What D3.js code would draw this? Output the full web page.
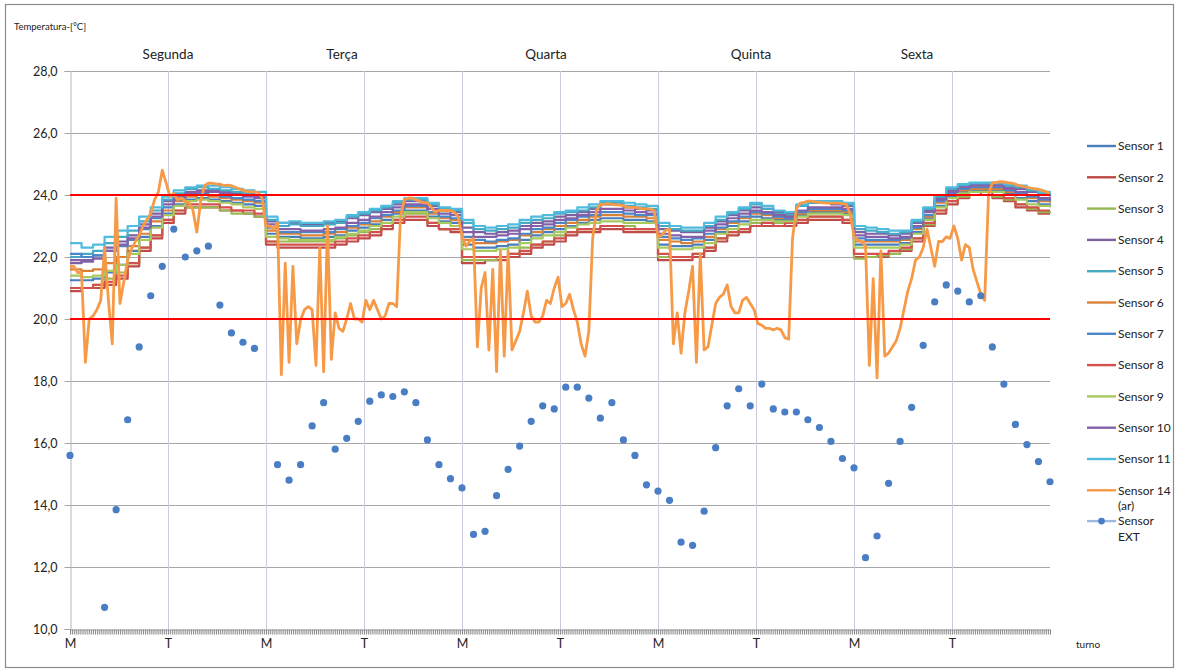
<!DOCTYPE html>
<html><head><meta charset="utf-8">
<script src="https://cdn.jsdelivr.net/npm/d3@7"></script>
<style>
body{margin:0;background:#fff}
svg{display:block}
text{font-family:Lato,"Open Sans","Liberation Sans",sans-serif;fill:#222}
</style>
</head><body>
<svg id="chart" width="1179" height="671"></svg>
<script>
// ---------------- DATA ----------------
const days = ["Segunda","Terça","Quarta","Quinta","Sexta"];
const shiftLabels = ["M","T"];
const slotsPerDay = 102;          // categories (10-min slots) per day
const sensorStep = 6;             // sensors 1-11 and EXT: one value every 6 categories (hourly)
const airStep = 2;                // sensor 14 (ar): one value every 2 categories
const yTicks = [10,12,14,16,18,20,22,24,26,28];
const limits = [20,24];
const seriesNames = ["Sensor 1","Sensor 2","Sensor 3","Sensor 4","Sensor 5","Sensor 6","Sensor 7","Sensor 8","Sensor 9","Sensor 10","Sensor 11","Sensor 14 (ar)","Sensor EXT"];

const sensor1 = [21.25,21.25,21.3,21.5,21.75,22.2,22.65,23.0,23.4,23.7,23.85,23.9,23.85,23.8,23.75,23.7,23.65,
22.75,22.65,22.65,22.6,22.6,22.65,22.7,22.85,22.95,23.05,23.2,23.4,23.5,23.5,23.3,23.15,23.1,
22.4,22.3,22.3,22.35,22.4,22.55,22.7,22.8,22.9,23.0,23.1,23.2,23.25,23.25,23.2,23.2,23.15,
22.4,22.35,22.35,22.4,22.55,22.8,23.0,23.15,23.3,23.25,23.2,23.2,23.35,23.45,23.45,23.45,23.4,
22.4,22.4,22.4,22.4,22.45,22.8,23.25,23.65,23.95,24.1,24.15,24.15,24.15,24.05,23.9,23.8,23.7,23.65];
const sensor2 = [20.9,21.0,21.0,21.1,21.3,21.7,22.2,22.6,23.1,23.4,23.6,23.6,23.6,23.5,23.5,23.4,23.3,
22.4,22.3,22.3,22.3,22.3,22.3,22.4,22.5,22.6,22.7,22.9,23.1,23.2,23.2,23.0,22.9,22.8,
21.8,21.8,21.9,21.9,22.0,22.1,22.3,22.4,22.5,22.7,22.8,22.8,22.9,22.9,22.8,22.8,22.8,
21.9,21.9,21.9,22.0,22.2,22.5,22.7,22.8,23.0,23.0,23.0,23.0,23.1,23.2,23.2,23.2,23.1,
22.0,22.0,22.0,22.1,22.2,22.5,23.0,23.4,23.7,23.9,24.0,24.0,23.9,23.8,23.6,23.5,23.4,23.4];
const sensor3 = [21.0,21.0,21.1,21.3,21.5,21.8,22.3,22.7,23.2,23.5,23.6,23.6,23.6,23.5,23.4,23.4,23.3,
22.5,22.5,22.5,22.5,22.5,22.5,22.6,22.7,22.8,22.9,23.0,23.2,23.4,23.4,23.1,22.9,22.9,
21.9,21.9,21.9,22.0,22.1,22.3,22.4,22.5,22.7,22.8,22.9,22.9,23.0,23.0,23.0,22.9,22.9,
22.0,22.0,22.0,22.1,22.3,22.6,22.8,22.9,23.1,23.1,23.1,23.1,23.2,23.3,23.3,23.3,23.2,
21.95,22.0,22.05,22.1,22.25,22.6,23.05,23.5,23.8,23.95,24.0,24.0,23.95,23.85,23.7,23.55,23.45,23.4];
const sensor4 = [21.8,21.9,22.05,22.3,22.5,22.7,23.05,23.4,23.8,24.0,24.1,24.15,24.15,24.1,24.05,24.0,23.95,
23.15,23.1,23.1,23.05,23.05,23.1,23.15,23.25,23.35,23.45,23.55,23.7,23.8,23.8,23.65,23.5,23.45,
22.95,22.8,22.75,22.8,22.85,23.0,23.1,23.15,23.3,23.35,23.45,23.55,23.7,23.7,23.6,23.55,23.5,
22.9,22.85,22.8,22.8,22.95,23.15,23.35,23.5,23.6,23.55,23.45,23.4,23.65,23.75,23.75,23.7,23.65,
22.8,22.75,22.75,22.7,22.75,23.1,23.5,23.9,24.15,24.3,24.35,24.35,24.35,24.25,24.2,24.1,24.0,23.95];
const sensor5 = [22.0,22.1,22.2,22.45,22.65,22.85,23.15,23.5,23.85,24.05,24.2,24.25,24.2,24.15,24.1,24.05,24.0,
23.2,23.0,23.05,23.0,23.0,23.05,23.1,23.3,23.4,23.5,23.6,23.75,23.85,23.85,23.7,23.55,23.5,
23.1,22.9,22.85,22.9,22.95,23.1,23.2,23.25,23.4,23.45,23.5,23.6,23.75,23.75,23.65,23.6,23.55,
23.0,22.9,22.85,22.85,23.0,23.2,23.4,23.55,23.7,23.55,23.4,23.35,23.65,23.75,23.75,23.75,23.7,
22.9,22.85,22.8,22.75,22.8,23.15,23.55,23.95,24.2,24.3,24.35,24.35,24.35,24.3,24.25,24.15,24.05,24.0];
const sensor6 = [21.6,21.55,21.6,21.8,22.0,22.35,22.75,23.15,23.5,23.8,23.95,24.0,23.95,23.9,23.85,23.8,23.75,
22.85,22.75,22.75,22.7,22.7,22.75,22.8,22.95,23.05,23.15,23.3,23.45,23.6,23.6,23.4,23.25,23.2,
22.55,22.45,22.45,22.5,22.55,22.7,22.8,22.9,23.0,23.1,23.2,23.3,23.35,23.35,23.3,23.3,23.25,
22.55,22.5,22.45,22.5,22.65,22.9,23.1,23.25,23.4,23.35,23.25,23.25,23.4,23.5,23.5,23.5,23.45,
22.5,22.5,22.5,22.5,22.55,22.9,23.3,23.75,24.0,24.15,24.2,24.2,24.2,24.1,24.0,23.9,23.8,23.75];
const sensor7 = [22.1,22.0,22.05,22.2,22.35,22.55,22.9,23.25,23.6,23.85,24.0,24.05,24.0,23.95,23.9,23.85,23.8,
22.95,22.8,22.8,22.8,22.8,22.8,22.9,23.0,23.1,23.25,23.35,23.5,23.65,23.65,23.45,23.3,23.25,
22.65,22.55,22.5,22.55,22.6,22.75,22.9,22.95,23.1,23.2,23.3,23.35,23.45,23.45,23.4,23.35,23.35,
22.65,22.6,22.55,22.6,22.75,22.95,23.15,23.3,23.45,23.4,23.3,23.25,23.45,23.55,23.55,23.55,23.5,
22.6,22.55,22.55,22.55,22.6,22.95,23.35,23.8,24.05,24.2,24.25,24.25,24.25,24.15,24.05,23.95,23.85,23.8];
const sensor8 = [21.0,21.0,21.1,21.2,21.4,21.8,22.3,22.7,23.2,23.5,23.7,23.7,23.7,23.6,23.5,23.5,23.4,
22.5,22.4,22.4,22.4,22.4,22.4,22.5,22.6,22.7,22.8,23.0,23.2,23.3,23.3,23.1,22.9,22.9,
22.0,22.0,22.0,22.0,22.1,22.2,22.4,22.5,22.6,22.8,22.9,22.9,23.0,23.0,22.9,22.9,22.9,
22.1,22.0,22.0,22.1,22.3,22.6,22.8,22.9,23.0,23.1,23.0,23.1,23.2,23.3,23.3,23.3,23.2,
22.1,22.1,22.1,22.2,22.3,22.6,23.1,23.5,23.8,24.0,24.0,24.1,24.0,23.9,23.7,23.6,23.5,23.5];
const sensor9 = [21.4,21.35,21.4,21.55,21.75,22.1,22.55,22.95,23.35,23.65,23.8,23.85,23.8,23.75,23.7,23.6,23.55,
22.65,22.6,22.55,22.55,22.55,22.55,22.65,22.75,22.85,23.0,23.1,23.3,23.45,23.45,23.25,23.1,23.0,
22.25,22.2,22.2,22.25,22.3,22.45,22.6,22.7,22.8,22.95,23.05,23.1,23.15,23.15,23.1,23.1,23.1,
22.3,22.25,22.25,22.3,22.45,22.75,22.9,23.05,23.2,23.2,23.15,23.15,23.3,23.4,23.4,23.4,23.35,
22.3,22.3,22.3,22.3,22.4,22.75,23.2,23.6,23.9,24.05,24.1,24.1,24.1,24.0,23.85,23.7,23.65,23.6];
const sensor10 = [21.9,21.85,21.95,22.2,22.4,22.6,22.95,23.3,23.7,23.95,24.05,24.1,24.1,24.05,24.0,23.95,23.9,
23.05,22.9,22.9,22.85,22.85,22.9,22.95,23.1,23.2,23.3,23.45,23.6,23.7,23.7,23.55,23.4,23.35,
22.8,22.65,22.65,22.7,22.75,22.9,23.0,23.05,23.2,23.25,23.35,23.45,23.55,23.55,23.5,23.45,23.4,
22.75,22.7,22.65,22.65,22.85,23.05,23.25,23.4,23.5,23.45,23.35,23.3,23.5,23.6,23.6,23.6,23.55,
22.7,22.65,22.65,22.6,22.65,23.0,23.45,23.85,24.1,24.25,24.3,24.3,24.3,24.2,24.1,24.0,23.9,23.85];
const sensor11 = [22.45,22.3,22.4,22.65,22.85,23.0,23.3,23.6,23.95,24.15,24.25,24.3,24.3,24.25,24.2,24.15,24.1,
23.3,23.1,23.15,23.1,23.1,23.15,23.2,23.35,23.45,23.55,23.65,23.8,23.9,23.9,23.75,23.6,23.55,
23.2,23.0,22.95,23.0,23.05,23.2,23.3,23.35,23.45,23.5,23.6,23.7,23.8,23.8,23.75,23.7,23.65,
23.1,23.0,22.95,22.95,23.1,23.3,23.45,23.6,23.75,23.65,23.5,23.45,23.7,23.8,23.8,23.8,23.75,
23.0,22.95,22.9,22.85,22.85,23.2,23.6,24.0,24.25,24.35,24.4,24.4,24.4,24.35,24.3,24.2,24.1,24.05];
const sensor14 = [21.7,21.7,21.5,21.5,18.6,20.0,20.1,20.3,20.6,22.3,20.6,19.2,23.9,20.5,21.2,21.9,22.25,22.5,22.7,23.0,23.2,23.4,23.85,24.1,24.8,24.4,23.95,24.05,23.85,23.9,23.8,23.75,23.5,22.8,23.8,24.3,24.38,24.38,24.35,24.35,24.3,24.32,24.3,24.25,24.2,24.15,24.12,24.1,24.1,24.08,23.9,
23.0,23.0,22.9,23.1,18.2,21.8,18.6,21.7,19.2,19.97,20.3,20.4,20.3,18.5,22.3,18.3,23.0,18.7,20.2,19.7,19.6,20.0,20.5,20.0,20.0,19.9,20.6,20.3,20.6,20.3,20.0,20.1,20.5,20.5,20.4,23.3,23.85,23.9,23.9,23.85,23.8,23.75,23.75,23.6,23.45,23.5,23.5,23.5,23.5,23.45,23.3,
22.7,22.35,22.5,22.6,19.1,21.0,21.5,19.0,21.6,18.3,22.2,18.8,22.2,19.0,19.3,19.6,20.2,20.9,20.1,19.9,19.9,20.1,20.6,20.5,21.0,21.35,20.4,20.5,20.8,20.3,19.9,19.2,18.8,19.6,22.6,23.5,23.7,23.7,23.72,23.7,23.68,23.68,23.65,23.6,23.6,23.6,23.58,23.55,23.55,23.55,23.5,
22.65,22.7,22.87,22.9,19.2,20.2,18.9,20.2,20.9,21.7,18.6,22.1,19.0,19.1,19.8,20.5,20.7,20.8,21.1,20.4,20.2,20.2,20.6,20.7,20.5,20.3,19.85,19.8,19.7,19.7,19.65,19.7,19.65,19.4,19.35,22.6,23.55,23.74,23.76,23.8,23.8,23.78,23.76,23.75,23.74,23.74,23.74,23.74,23.72,23.7,23.4,
22.65,22.55,22.5,22.35,18.5,21.3,18.1,22.2,18.8,18.9,19.1,19.3,19.7,20.3,20.9,21.3,21.9,22.0,22.3,22.9,22.3,21.7,22.5,22.5,22.65,22.6,23.0,22.6,21.9,22.4,22.3,21.6,21.2,20.8,20.6,24.0,24.4,24.4,24.43,24.42,24.4,24.38,24.35,24.3,24.28,24.25,24.22,24.2,24.18,24.15,24.1,24.05];
const sensorExt = [15.6,null,null,10.7,13.85,16.75,19.1,20.75,21.7,22.9,22.0,22.2,22.35,20.45,19.55,19.25,19.05,
null,15.3,14.8,15.3,16.55,17.3,15.8,16.15,16.7,17.35,17.55,17.5,17.65,17.3,16.1,15.3,14.85,
14.55,13.05,13.15,14.3,15.15,15.9,16.7,17.2,17.1,17.8,17.8,17.45,16.8,17.3,16.1,15.6,14.65,
14.45,14.15,12.8,12.7,13.8,15.85,17.2,17.75,17.2,17.9,17.1,17.0,17.0,16.75,16.5,16.05,15.5,
15.2,12.3,13.0,14.7,16.05,17.15,19.15,20.55,21.1,20.9,20.55,20.75,19.1,17.9,16.6,15.95,15.4,14.75];

// ---------------- STYLE / LAYOUT ----------------
const colors = ["#4A7EBB","#BE4B48","#98B954","#7D60A0","#46AAC5","#DA8137","#4A86C8","#D4504E","#A8C95E","#8560AA","#4FBCDD","#F79A48","#4A7EC4"];
const plot = {left:70, right:1050, top:71, bottom:629};
const dayLabelX = [168, 342, 546, 751, 917];

const svg = d3.select("#chart");
svg.append("rect").attr("x",5.5).attr("y",4.5).attr("width",1168).attr("height",663)
  .attr("fill","#fff").attr("stroke","#8a8a8a").attr("stroke-width",1.2);

const nCats = days.length*slotsPerDay + 1;
const cats = d3.range(nCats);
const x = d3.scalePoint().domain(cats).range([plot.left, plot.right]);
const y = d3.scaleLinear().domain([10,28]).range([plot.bottom, plot.top]);

const ptFmt = d3.formatLocale({decimal:",",thousands:".",grouping:[3],currency:["","€"]}).format(".1f");

// horizontal gridlines
svg.append("g").selectAll("line").data(yTicks.filter(v=>v!==10)).join("line")
  .attr("x1",plot.left).attr("x2",plot.right)
  .attr("y1",d=>y(d)+0.5).attr("y2",d=>y(d)+0.5)
  .attr("stroke","#a6a6a6").attr("stroke-width",1);

// vertical gridlines at each shift start
const shiftCats = [];
days.forEach((d,i)=>shiftLabels.forEach((s,j)=>shiftCats.push(i*slotsPerDay + j*slotsPerDay/2)));
svg.append("g").selectAll("line").data(shiftCats.filter(c=>c>0)).join("line")
  .attr("x1",d=>Math.round(x(d))+0.5).attr("x2",d=>Math.round(x(d))+0.5)
  .attr("y1",plot.top).attr("y2",plot.bottom)
  .attr("stroke","#cbcbdf").attr("stroke-width",1);

// y axis
const yAxis = svg.append("g").attr("transform",`translate(${plot.left+0.5},0)`)
  .call(d3.axisLeft(y).tickValues(yTicks).tickSize(6).tickPadding(7).tickFormat(ptFmt));
yAxis.select(".domain").attr("stroke","#b4b4c6");
yAxis.selectAll(".tick line").attr("stroke","#a6a6a6");
yAxis.selectAll("text").attr("font-size",12.5).attr("fill","#333").style("font-family","Lato,'Open Sans',sans-serif");

// x axis: a tick for every category
const xAxis = svg.append("g").attr("transform",`translate(0,${plot.bottom+0.5})`)
  .call(d3.axisBottom(x).tickValues(cats).tickSize(5).tickFormat(""));
xAxis.select(".domain").attr("stroke","#a0a0a0");
xAxis.selectAll(".tick line").attr("stroke","#8a8a8a").attr("stroke-width",1);
const xLab = svg.append("g").attr("transform",`translate(0,${plot.bottom})`)
  .call(d3.axisBottom(x).tickValues(shiftCats).tickSize(0).tickPadding(10)
    .tickFormat(c=>shiftLabels[Math.round((c%slotsPerDay)/(slotsPerDay/2))]));
xLab.select(".domain").remove();
xLab.selectAll("text").attr("font-size",12.5).attr("fill","#333").style("font-family","Lato,'Open Sans',sans-serif");

// sensor lines 1..11
const sensors = [sensor1,sensor2,sensor3,sensor4,sensor5,sensor6,sensor7,sensor8,sensor9,sensor10,sensor11];
const stepLine = d3.line().x(d=>x(d[0])).y(d=>y(d[1])).curve(d3.curveStepAfter);
sensors.forEach((arr,i)=>{
  svg.append("path").datum(arr.map((v,k)=>[k*sensorStep, v]))
    .attr("d",stepLine).attr("fill","none").attr("stroke",colors[i])
    .attr("stroke-width",2.2).attr("stroke-linejoin","round");
});
// sensor 14 (ar)
const airLine = d3.line().x(d=>x(d[0])).y(d=>y(d[1]));
svg.append("path").datum(sensor14.map((v,j)=>[j*airStep, v]))
  .attr("d",airLine).attr("fill","none").attr("stroke",colors[11])
  .attr("stroke-width",2.8).attr("stroke-linejoin","round");

// limit lines
svg.append("g").selectAll("line").data(limits).join("line")
  .attr("x1",plot.left).attr("x2",plot.right)
  .attr("y1",d=>y(d)).attr("y2",d=>y(d))
  .attr("stroke","#FF0000").attr("stroke-width",2);

// EXT points
svg.append("g").selectAll("circle")
  .data(sensorExt.map((v,k)=>[k*sensorStep, v]).filter(d=>d[1]!==null)).join("circle")
  .attr("cx",d=>x(d[0])).attr("cy",d=>y(d[1])).attr("r",3.6).attr("fill",colors[12]);

// titles
svg.append("text").attr("x",14).attr("y",30).attr("font-size",9.5).attr("fill","#222").text("Temperatura-[°C]");
svg.selectAll(".day").data(days).join("text").attr("class","day")
  .attr("x",(d,i)=>dayLabelX[i]).attr("y",59).attr("text-anchor","middle")
  .attr("font-size",13.5).attr("fill","#222").text(d=>d);
svg.append("text").attr("x",1076).attr("y",648).attr("font-size",10).attr("fill","#444").text("turno");

// legend
const legY0 = 146, legDy = 31.3;
const lg = svg.append("g");
seriesNames.forEach((name,i)=>{
  const yy = legY0 + i*legDy + (i===12 ? -0.5 : 0);
  if(i<12){
    lg.append("line").attr("x1",1087).attr("x2",1116).attr("y1",yy).attr("y2",yy)
      .attr("stroke",colors[i]).attr("stroke-width",2.4);
  } else {
    lg.append("line").attr("x1",1087).attr("x2",1116).attr("y1",yy).attr("y2",yy)
      .attr("stroke","#9DB9DE").attr("stroke-width",2.4);
    lg.append("circle").attr("cx",1101.5).attr("cy",yy).attr("r",3.4).attr("fill",colors[12]);
  }
  const parts = i===11 ? ["Sensor 14","(ar)"] : i===12 ? ["Sensor","EXT"] : [name];
  const t = lg.append("text").attr("x",1118).attr("y",yy).attr("dy","0.35em").attr("font-size",12).attr("fill","#222");
  parts.forEach((p,pi)=>t.append("tspan").attr("x",1118).attr("dy",pi===0?"0.35em":"15.5").text(p));
});
</script>
</body></html>
